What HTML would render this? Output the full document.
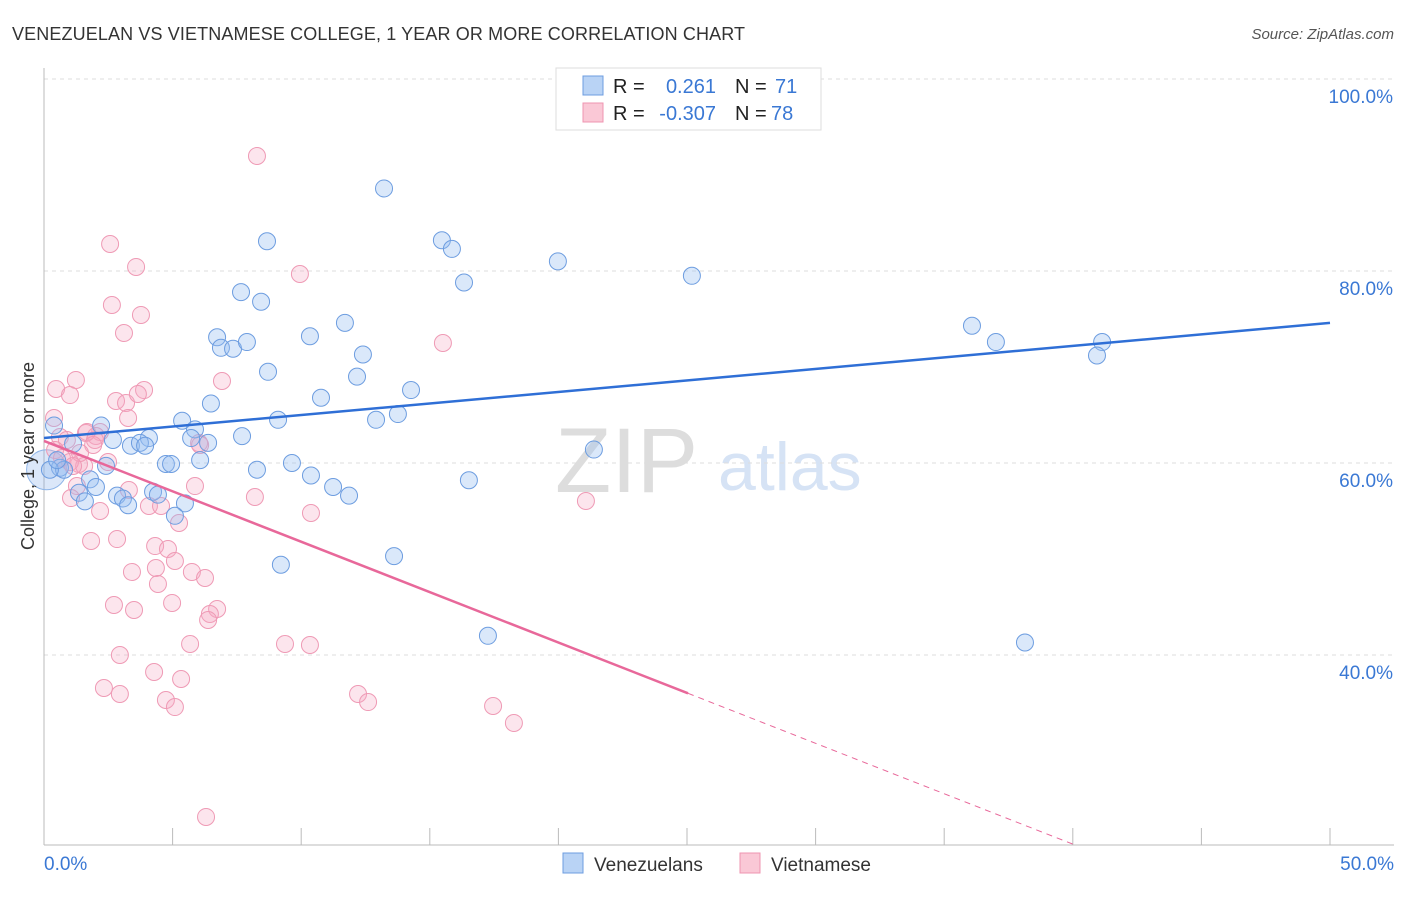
<!DOCTYPE html>
<html><head><meta charset="utf-8"><style>
body{margin:0;background:#fff;font-family:"Liberation Sans",sans-serif;}
svg text{font-family:"Liberation Sans",sans-serif;}
</style></head><body>
<svg id="chart" width="1406" height="892">
<text x="12" y="40" font-size="18" fill="#333" textLength="733">VENEZUELAN VS VIETNAMESE COLLEGE, 1 YEAR OR MORE CORRELATION CHART</text>
<text x="1394" y="39" font-size="15" fill="#555" font-style="italic" text-anchor="end">Source: ZipAtlas.com</text>
<text x="555" y="492" font-size="92" fill="#ddd" font-family="Liberation Serif">ZIP</text>
<text x="718" y="490" font-size="68" fill="#d6e3f5">atlas</text>
<g id="grid"></g>
<g id="axes"></g>
<g id="pts"></g>
<g id="lines"></g>
<text transform="translate(34,456) rotate(-90)" font-size="18" fill="#333" text-anchor="middle">College, 1 year or more</text>
<g>
<rect x="556" y="68" width="265" height="62" fill="#fff" stroke="#ddd"/>
<rect x="583" y="76" width="20" height="19" fill="#b9d3f5" stroke="#6d9de0"/>
<rect x="583" y="103" width="20" height="19" fill="#fac8d6" stroke="#ef94b0"/>
<text x="613" y="93" font-size="20" fill="#222">R =</text><text x="716" y="93" font-size="20" fill="#3a78d4" text-anchor="end">0.261</text>
<text x="735" y="93" font-size="20" fill="#222">N =</text><text x="775" y="93" font-size="20" fill="#3a78d4">71</text>
<text x="613" y="120" font-size="20" fill="#222">R =</text><text x="716" y="120" font-size="20" fill="#3a78d4" text-anchor="end">-0.307</text>
<text x="735" y="120" font-size="20" fill="#222">N =</text><text x="771" y="120" font-size="20" fill="#3a78d4">78</text>
</g>
<g>
<rect x="563" y="853" width="20" height="20" fill="#b9d3f5" stroke="#6d9de0"/>
<text x="594" y="871" font-size="19" fill="#333">Venezuelans</text>
<rect x="740" y="853" width="20" height="20" fill="#fac8d6" stroke="#ef94b0"/>
<text x="771" y="871" font-size="19" fill="#333">Vietnamese</text>
</g>
</svg>
<script>
const yTicks=[40,60,80,100];
const yTickLabels=["40.0%","60.0%","80.0%","100.0%"];
const xTickLabels=["0.0%","50.0%"];
const blueX=[13.22,8.67,15.47,15.86,19.98,25.19,16.33,7.66,8.44,11.70,10.34,6.73,6.88,7.35,7.89,12.40,36.08,37.01,41.14,40.94,8.71,12.17,14.27,10.77,6.49,13.76,12.91,9.10,5.37,2.22,0.39,5.87,7.70,4.08,5.72,2.68,6.38,1.13,3.38,3.73,3.93,21.38,6.07,4.74,4.94,2.41,0.62,0.78,9.64,8.28,10.38,16.52,1.79,2.02,11.24,4.24,4.43,1.36,11.86,2.84,3.07,1.59,3.27,5.48,5.09,13.61,9.21,17.26,38.14,0.23,0.51];
const blueY=[88.6,83.1,83.2,82.3,81.0,79.5,78.8,77.8,76.8,74.6,73.2,73.1,72.0,71.9,72.6,71.3,74.3,72.6,72.6,71.2,69.5,69.0,67.6,66.8,66.2,65.1,64.5,64.5,64.4,63.9,63.9,63.5,62.8,62.6,62.6,62.4,62.1,62.0,61.8,62.1,61.8,61.4,60.3,59.9,59.9,59.7,59.5,59.3,60.0,59.3,58.7,58.2,58.3,57.5,57.5,57.0,56.7,56.9,56.6,56.6,56.3,56.0,55.6,55.8,54.5,50.3,49.4,42.0,41.3,59.3,60.3];
const pinkX=[8.28,2.57,3.58,9.95,2.64,3.77,3.11,15.51,1.24,6.92,0.47,3.89,1.01,2.80,3.19,3.65,3.27,0.39,2.18,1.63,2.02,0.62,0.89,1.98,1.67,6.03,1.91,6.07,0.43,0.70,1.36,1.56,1.01,1.40,5.87,3.30,1.28,1.05,4.08,4.55,8.20,21.07,10.38,5.25,2.18,2.84,1.83,4.32,4.82,5.09,4.35,3.42,5.75,6.26,4.43,4.98,2.72,3.50,6.73,6.45,6.38,5.68,9.37,10.34,2.95,4.28,5.33,2.33,2.95,12.21,12.60,4.74,5.09,17.46,18.27,6.30,1.13,2.49];
const pinkY=[91.98,82.81,80.42,79.69,76.46,75.42,73.54,72.50,68.65,68.54,67.71,67.60,67.08,66.46,66.25,67.19,64.69,64.69,63.23,63.13,62.81,62.71,62.40,62.40,63.23,62.08,61.88,61.88,61.35,60.52,59.90,59.69,60.10,61.04,57.60,57.19,57.60,56.35,55.52,55.52,56.46,56.04,54.79,53.75,55.0,52.08,51.88,51.35,51.04,49.79,49.06,48.65,48.65,48.02,47.40,45.42,45.21,44.69,44.79,44.27,43.65,41.15,41.15,41.04,40.0,38.23,37.50,36.56,35.94,35.94,35.10,35.31,34.58,34.69,32.92,23.13,59.69,60.10];
const blueTrend=[62.6,74.6];
const pinkIntercept=62.3, pinkSlope=-1.05, pinkSolidEnd=25.04;

const X=v=>44+v*25.72, Y=v=>1039-v*9.6;
const NS="http://www.w3.org/2000/svg";
function mk(tag,attrs,parent){const e=document.createElementNS(NS,tag);for(const k in attrs)e.setAttribute(k,attrs[k]);parent.appendChild(e);return e;}
const grid=document.getElementById('grid'),axes=document.getElementById('axes'),pts=document.getElementById('pts'),lines=document.getElementById('lines');
yTicks.forEach((t,i)=>{
 const l=mk('line',{x1:44,x2:1394,y1:Y(t),y2:Y(t),stroke:'#ddd','stroke-dasharray':'4,4'},grid);
 
 
 const tx=mk('text',{x:1393,y:Y(t)+24,'font-size':19,fill:'#3a78d4','text-anchor':'end'},grid);
 tx.textContent=yTickLabels[i];
 
 
});
const ax=mk('line',{x1:44,x2:44,y1:68,y2:845,stroke:'#bbb'},axes);


const bx=mk('line',{x1:44,x2:1394,y1:845,y2:845,stroke:'#bbb'},axes);


for(let v=5;v<=50;v+=5){
 const t=mk('line',{x1:X(v),x2:X(v),y1:828,y2:845,stroke:'#bbb'},axes);
 
 
}
[[0,'start',44],[50,'end',1394]].forEach((a,i)=>{
 const tx=mk('text',{x:a[2],y:870,'font-size':19,fill:'#3a78d4','text-anchor':a[1]},axes);
 tx.textContent=xTickLabels[i];
 
 
});
const big=mk('circle',{cx:X(0.1),cy:Y(59.3),r:20,fill:'rgba(110,160,230,0.25)',stroke:'#8fb5e8','stroke-width':1},pts);


pinkX.forEach((x,i)=>{
 const c=mk('circle',{cx:X(x),cy:Y(pinkY[i]),r:8.5,fill:'rgba(245,170,195,0.3)',stroke:'#ef9ab5','stroke-width':1},pts);
 
 
});
blueX.forEach((x,i)=>{
 const c=mk('circle',{cx:X(x),cy:Y(blueY[i]),r:8.5,fill:'rgba(150,190,240,0.35)',stroke:'#6d9de0','stroke-width':1},pts);
 
 
});
const bl=mk('line',{x1:X(0),y1:Y(blueTrend[0]),x2:X(50),y2:Y(blueTrend[1]),stroke:'#2f6fd6','stroke-width':2.5},lines);


const pl=mk('line',{x1:X(0),y1:Y(pinkIntercept),x2:X(pinkSolidEnd),y2:Y(pinkIntercept+pinkSlope*pinkSolidEnd),stroke:'#e8689a','stroke-width':2.5},lines);


const xEnd=(20.2-pinkIntercept)/pinkSlope;
const pd=mk('line',{x1:X(pinkSolidEnd),y1:Y(pinkIntercept+pinkSlope*pinkSolidEnd),x2:X(xEnd),y2:Y(20.2),stroke:'#e8689a','stroke-width':1,'stroke-dasharray':'6,5'},lines);


</script>
</body></html>
